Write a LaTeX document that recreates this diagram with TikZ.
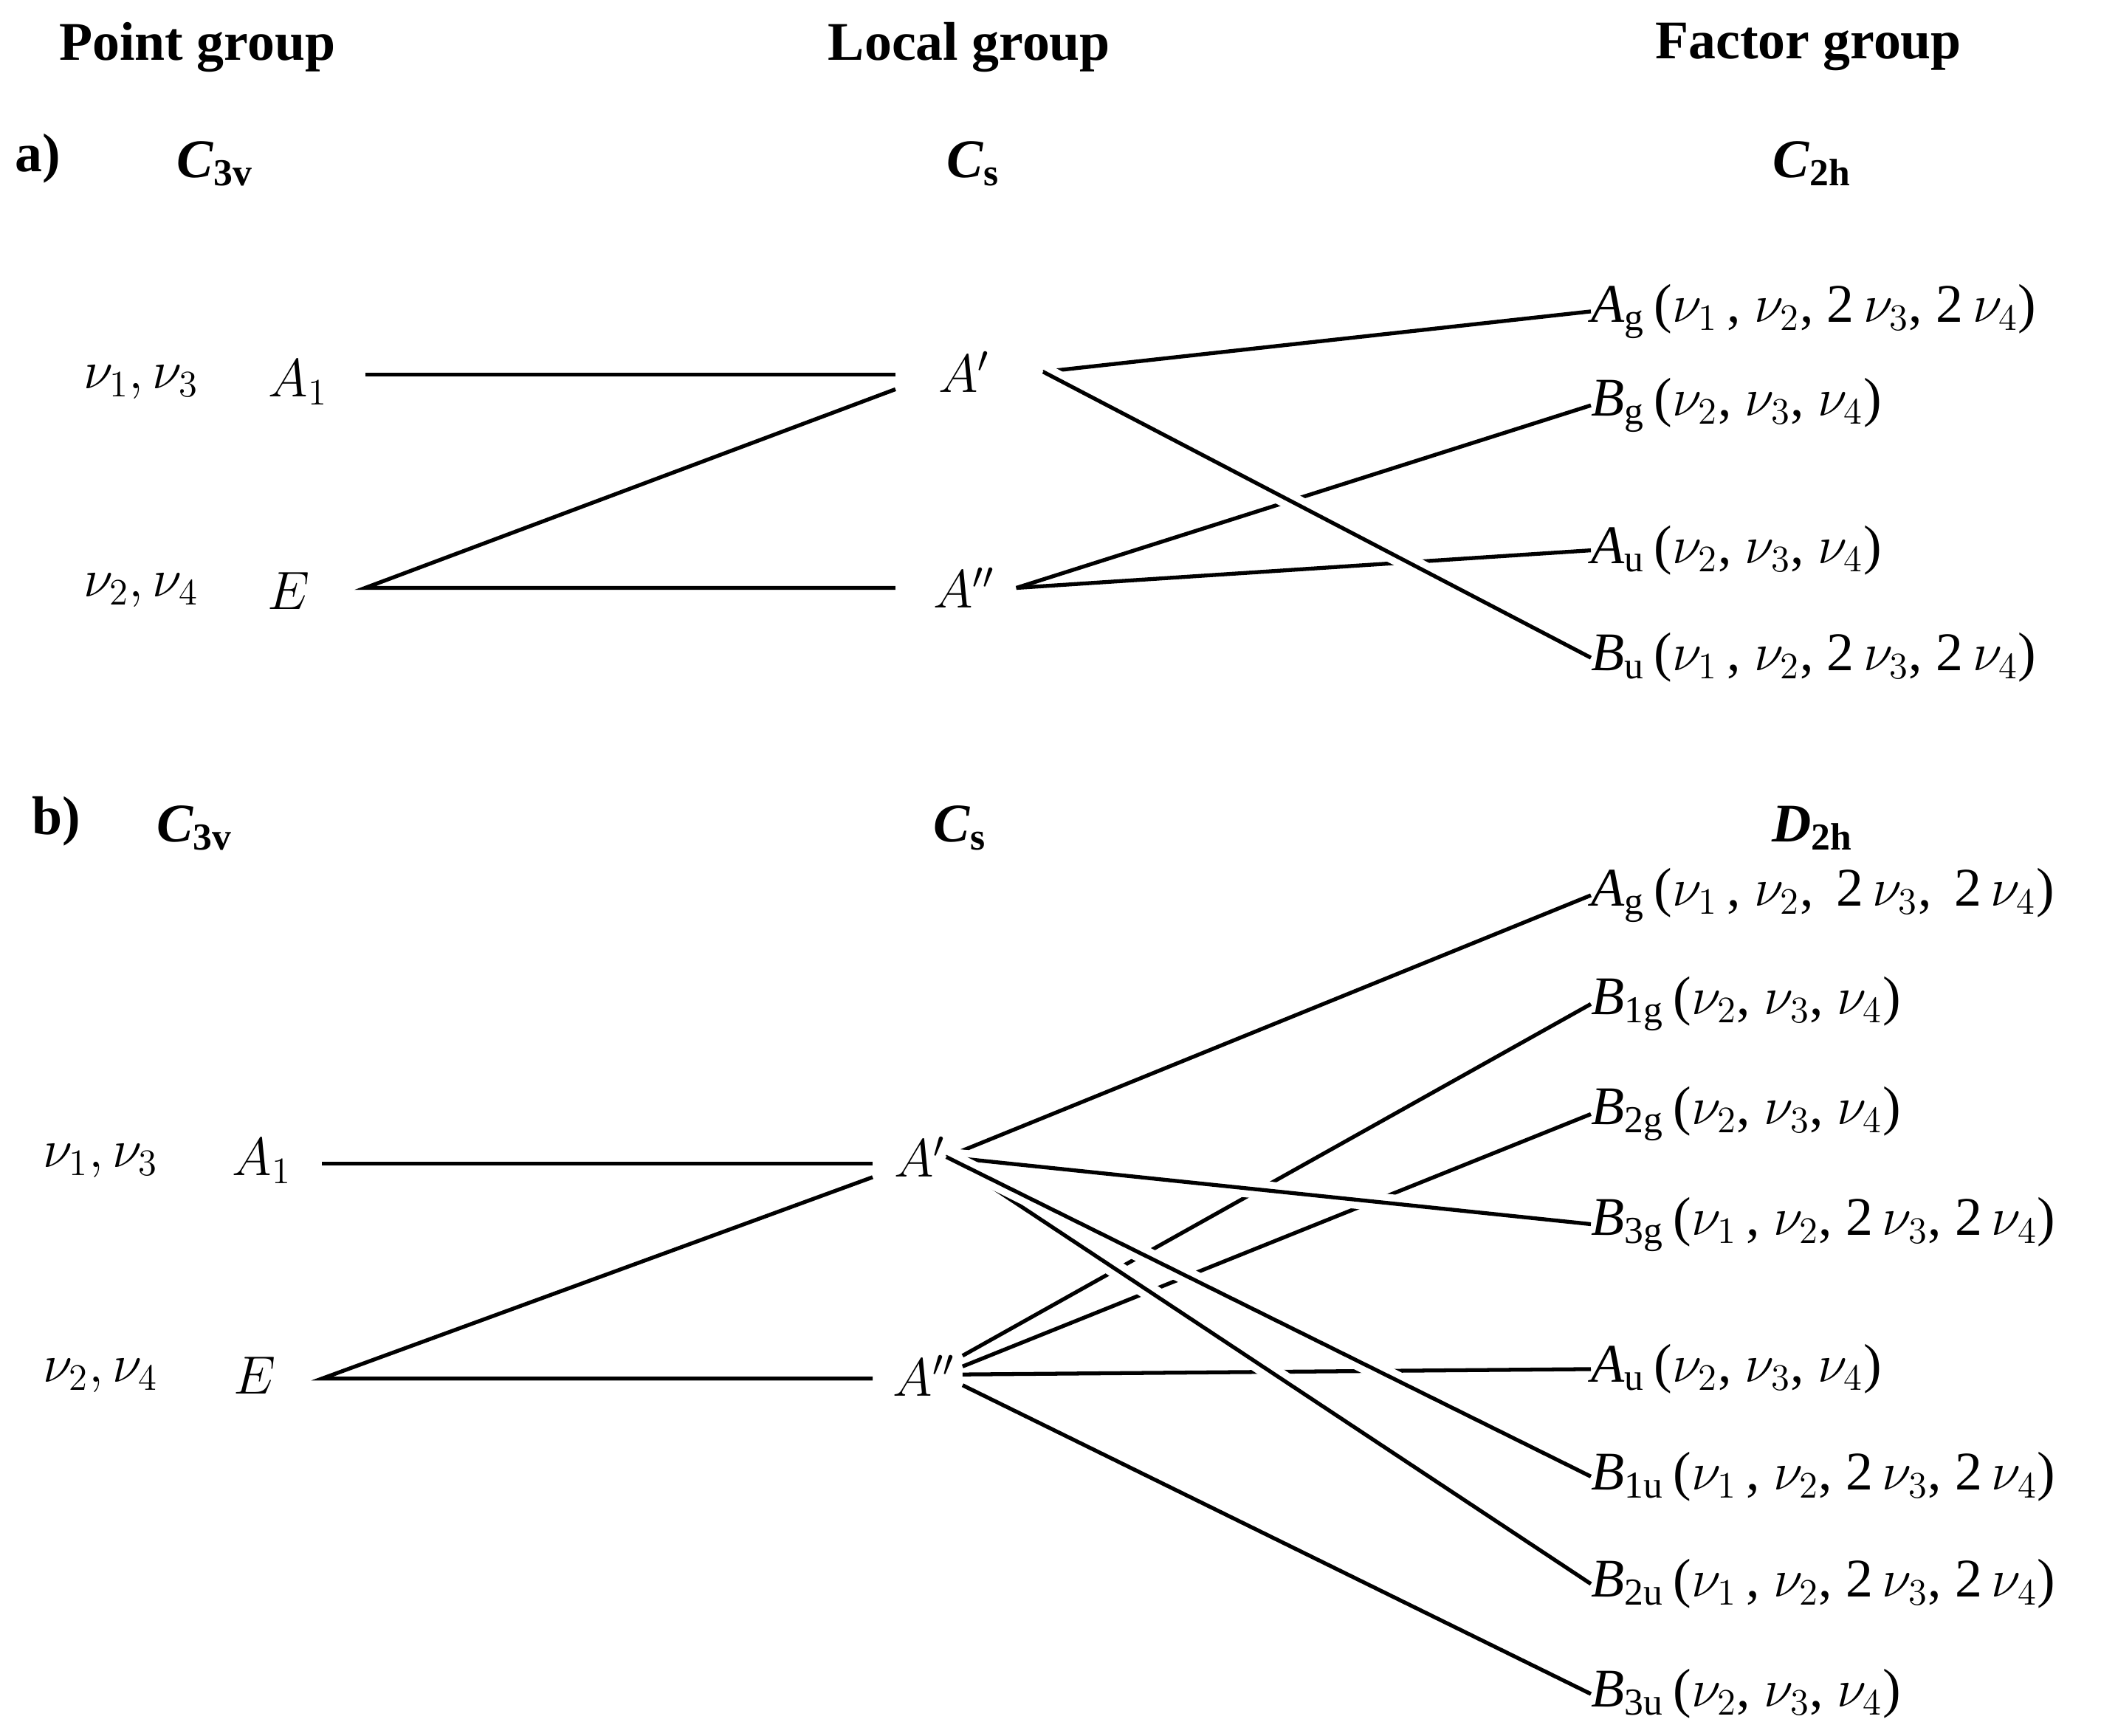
\documentclass[tikz,border=0pt]{standalone}
\usepackage{fontspec}
\setmainfont{Liberation Serif}
\begin{document}
\begin{tikzpicture}[x=0.01819cm,y=-0.01819cm,
  every node/.style={font=\fontsize{21}{25}\selectfont,inner sep=0pt},
  hd/.style={font=\fontsize{21}{25}\selectfont\bfseries},
  lab/.style={anchor=west},
  ln/.style={line width=1.5pt},
  over/.style={preaction={draw,white,line width=7pt},line width=1.5pt}]
\useasboundingbox (0,0) rectangle (1565,1293);
\newcommand{\nn}[1]{\ensuremath{\nu_{#1}}}
\newcommand{\irr}[2]{\ensuremath{\mathit{#1}_{\mathrm{#2}}}}
% headers
\node[hd] (h1) at (147,35) {Point group};
\node[hd] (h2) at (722,35) {Local group};
\node[hd] (h3) at (1347,35) {Factor group};
% a)
\node[hd] (la) at (28,118) {a)};
\node[hd] (ga1) at (160,122) {\textit{C}\textsubscript{3v}};
\node[hd] (ga2) at (725,122) {\textit{C}\textsubscript{s}};
\node[hd] (ga3) at (1350,122) {\textit{C}\textsubscript{2h}};
\node (an1) at (105,285) {$\nu_1,\nu_3$};
\node (an2) at (105,440) {$\nu_2,\nu_4$};
\node (aA1) at (222,285) {$A_1$};
\node (aE) at (215,440) {$E$};
\node (aAp) at (718,277) {$A'$};
\node (aApp) at (718,438) {$A''$};
\coordinate (aL1) at (272,279); \coordinate (aL2) at (272,438);
\coordinate (aM1) at (667,279); \coordinate (aM1b) at (667,290); \coordinate (aM2) at (667,438);
\coordinate (aR1) at (777,277); \coordinate (aR2) at (757,438);
\node[lab] (aAg) at (1185,232) {\irr{A}{g}\,($\nu_1$\,, $\nu_2$, 2\,$\nu_3$, 2\,$\nu_4$)};
\node[lab] (aBg) at (1185,302) {\irr{B}{g}\,($\nu_2$, $\nu_3$, $\nu_4$)};
\node[lab] (aAu) at (1185,410) {\irr{A}{u}\,($\nu_2$, $\nu_3$, $\nu_4$)};
\node[lab] (aBu) at (1185,490) {\irr{B}{u}\,($\nu_1$\,, $\nu_2$, 2\,$\nu_3$, 2\,$\nu_4$)};
\draw[ln] (aL1) -- (aM1);
\draw[ln] (aM1b) -- (aL2) -- (aM2);
\draw[ln] (aR2) -- (aBg.west);
\draw[ln] (aR2) -- (aAu.west);
\draw[ln] (aR1) -- (aAg.west);
\draw[over] (aR1) -- (aBu.west);
% b)
\node[hd] (lb) at (42,612) {b)};
\node[hd] (gb1) at (145,617) {\textit{C}\textsubscript{3v}};
\node[hd] (gb2) at (715,617) {\textit{C}\textsubscript{s}};
\node[hd] (gb3) at (1350,617) {\textit{D}\textsubscript{2h}};
\node (bn1) at (75,865) {$\nu_1,\nu_3$};
\node (bn2) at (75,1025) {$\nu_2,\nu_4$};
\node (bA1) at (195,865) {$A_1$};
\node (bE) at (190,1025) {$E$};
\node (bAp) at (685,862) {$A'$};
\node (bApp) at (688,1025) {$A''$};
\coordinate (bL1) at (240,867); \coordinate (bL2) at (240,1027);
\coordinate (bM1) at (650,867); \coordinate (bM1b) at (650,877); \coordinate (bM2) at (650,1027);
\coordinate (bR1) at (705,862);
\coordinate (bR2a) at (717,1010); \coordinate (bR2b) at (717,1018);
\coordinate (bR2c) at (717,1024); \coordinate (bR2d) at (717,1032);
\node[lab] (bAg) at (1185,667) {\irr{A}{g}\,($\nu_1$\,, $\nu_2$,\, 2\,$\nu_3$,\, 2\,$\nu_4$)};
\node[lab] (bB1g) at (1185,748) {\irr{B}{1g}\,($\nu_2$, $\nu_3$, $\nu_4$)};
\node[lab] (bB2g) at (1185,830) {\irr{B}{2g}\,($\nu_2$, $\nu_3$, $\nu_4$)};
\node[lab] (bB3g) at (1185,912) {\irr{B}{3g}\,($\nu_1$\,, $\nu_2$, 2\,$\nu_3$, 2\,$\nu_4$)};
\node[lab] (bAu) at (1185,1020) {\irr{A}{u}\,($\nu_2$, $\nu_3$, $\nu_4$)};
\node[lab] (bB1u) at (1185,1100) {\irr{B}{1u}\,($\nu_1$\,, $\nu_2$, 2\,$\nu_3$, 2\,$\nu_4$)};
\node[lab] (bB2u) at (1185,1180) {\irr{B}{2u}\,($\nu_1$\,, $\nu_2$, 2\,$\nu_3$, 2\,$\nu_4$)};
\node[lab] (bB3u) at (1185,1262) {\irr{B}{3u}\,($\nu_2$, $\nu_3$, $\nu_4$)};
\draw[ln] (bL1) -- (bM1);
\draw[ln] (bM1b) -- (bL2) -- (bM2);
\draw[ln] (bR2a) -- (bB1g.west);
\draw[ln] (bR2b) -- (bB2g.west);
\draw[ln] (bR2c) -- (bAu.west);
\draw[ln] (bR2d) -- (bB3u.west);
\draw[ln] (bR1) -- (bAg.west);
\draw[over] (bR1) -- (bB3g.west);
\draw[over] (bR1) -- (bB2u.west);
\draw[over] (bR1) -- (bB1u.west);
\end{tikzpicture}
\end{document}
